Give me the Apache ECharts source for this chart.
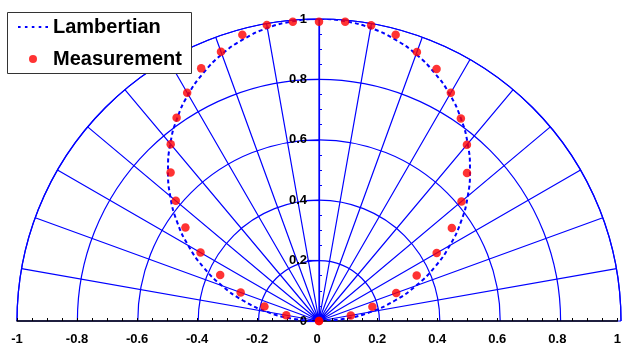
<!DOCTYPE html>
<html>
<head>
<meta charset="utf-8">
<script src="https://cdn.jsdelivr.net/npm/echarts@6/dist/echarts.min.js"></script>
<style>
  html, body { margin: 0; padding: 0; background: #ffffff; }
  #chart { width: 624px; height: 350px; }
</style>
</head>
<body>
<div id="chart"></div>
<script>
// Emission angle from the surface normal (degrees), Lambertian reference intensity
const lambertAngles = [-90, -85, -80, -75, -70, -65, -60, -55, -50, -45, -40, -35, -30, -25, -20, -15, -10, -5,
                       0, 5, 10, 15, 20, 25, 30, 35, 40, 45, 50, 55, 60, 65, 70, 75, 80, 85, 90];
const lambertValues = [0.000, 0.087, 0.174, 0.259, 0.342, 0.423, 0.500, 0.574, 0.643, 0.707, 0.766, 0.819, 0.866, 0.906, 0.940, 0.966, 0.985, 0.996,
                       1.000, 0.996, 0.985, 0.966, 0.940, 0.906, 0.866, 0.819, 0.766, 0.707, 0.643, 0.574, 0.500, 0.423, 0.342, 0.259, 0.174, 0.087, 0.000];

// Measured normalized intensity
const measAngles = [-90, -80, -75, -70, -65, -60, -55, -50, -45, -40, -35, -30, -25, -20, -15, -10, -5,
                    0, 5, 10, 15, 20, 25, 30, 35, 40, 45, 50, 55, 60, 65, 70, 75, 80, 90];
const measValues = [0.000, 0.110, 0.187, 0.276, 0.361, 0.453, 0.540, 0.619, 0.695, 0.764, 0.822, 0.873, 0.923, 0.949, 0.981, 0.995, 0.995,
                    0.991, 0.995, 0.994, 0.981, 0.948, 0.921, 0.873, 0.819, 0.762, 0.693, 0.616, 0.537, 0.450, 0.357, 0.272, 0.183, 0.107, 0.000];

// Axis ranges and tick spacing
const xRange = [-1, 1];
const yRange = [0, 1];
const tickStep = 0.2;
const spokeStep = 10;

const FONT = 'Arial, "Liberation Sans", Helvetica, sans-serif';
const BLUE = '#0000ff';
const RED = '#ff0000';

// Legend glyphs: a row of short dashes, and a small dot centred in a 30x8 box
const DASH_ICON = 'path://M0 0h2.6v2h-2.6z M6.9 0h2.6v2h-2.6z M13.8 0h2.6v2h-2.6z M20.7 0h2.6v2h-2.6z M27.4 0h2.6v2h-2.6z';
const DOT_ICON = 'path://M0 0M30 8M11 4a4 4 0 1 0 8 0a4 4 0 1 0 -8 0z';

const chart = echarts.init(document.getElementById('chart'), null, { renderer: 'canvas' });

const labelStyle = { color: '#000', fontWeight: 'bold', fontSize: 13, fontFamily: FONT };
const legendText = { color: '#000', fontWeight: 'bold', fontSize: 20, fontFamily: FONT, lineHeight: 20 };

chart.setOption({
  animation: false,
  backgroundColor: '#ffffff',
  polar: { center: [319, 321], radius: 302 },
  angleAxis: {
    type: 'value', min: -90, max: 90, interval: spokeStep,
    startAngle: 180, endAngle: 0, clockwise: true,
    axisLine: { show: true, lineStyle: { color: BLUE, width: 1.2 } },
    axisTick: { show: false },
    axisLabel: { show: false },
    splitLine: { show: true, lineStyle: { color: BLUE, width: 1.2 } }
  },
  radiusAxis: {
    type: 'value', min: 0, max: 1, interval: tickStep,
    axisLine: { show: false }, axisTick: { show: false }, axisLabel: { show: false },
    splitLine: { show: true, lineStyle: { color: BLUE, width: 1.2 } }
  },
  grid: { left: 17, right: 3, top: 19, bottom: 29 },
  xAxis: {
    type: 'value', min: xRange[0], max: xRange[1], interval: tickStep,
    axisLine: { onZero: false, lineStyle: { color: '#000', width: 1.5 } },
    axisTick: { show: true, inside: true, length: 3, lineStyle: { color: '#000' } },
    minorTick: { show: true, splitNumber: 4, length: 3, lineStyle: { color: '#000' } },
    splitLine: { show: false },
    axisLabel: Object.assign({ margin: 12 }, labelStyle)
  },
  yAxis: [
    {
      type: 'value', min: yRange[0], max: yRange[1], interval: tickStep,
      position: 'left', offset: -302,
      axisLine: { show: true, onZero: false, lineStyle: { color: BLUE, width: 1.2 } },
      axisTick: { show: true, inside: false, length: 12, lineStyle: { color: BLUE, width: 1.2 } },
      splitLine: { show: false },
      axisLabel: Object.assign({ margin: 12 }, labelStyle)
    },
    {
      type: 'value', min: yRange[0], max: yRange[1], interval: tickStep,
      position: 'left', offset: -302,
      axisLine: { show: false, onZero: false },
      axisTick: { show: false, inside: true },
      minorTick: { show: true, splitNumber: 4, length: 3, lineStyle: { color: BLUE } },
      splitLine: { show: false },
      axisLabel: { show: false }
    }
  ],
  graphic: [
    {
      type: 'rect', x: 7.5, y: 12.5, z: 15,
      shape: { x: 0, y: 0, width: 184, height: 61 },
      style: { fill: '#ffffff', stroke: '#333333', lineWidth: 1 }
    }
  ],
  legend: [
    {
      data: [{ name: 'Lambertian', icon: DASH_ICON }], left: 18, top: 17, padding: 0, z: 20,
      itemWidth: 30, itemHeight: 2,
      textStyle: legendText
    },
    {
      data: [{ name: 'Measurement', icon: DOT_ICON }], left: 18, top: 49, padding: 0, z: 20,
      itemWidth: 30, itemHeight: 8,
      textStyle: legendText
    }
  ],
  series: [
    {
      name: 'Lambertian', type: 'line', coordinateSystem: 'polar',
      data: lambertAngles.map((a, i) => [lambertValues[i], a]),
      symbol: 'none', smooth: true,
      itemStyle: { color: BLUE },
      lineStyle: { color: BLUE, width: 2, type: [4, 3] },
      z: 3
    },
    {
      name: 'Measurement', type: 'scatter', coordinateSystem: 'polar',
      data: measAngles.map((a, i) => [measValues[i], a]),
      symbol: 'circle', symbolSize: 8.5,
      itemStyle: { color: RED },
      z: 4
    }
  ]
});
</script>
</body>
</html>
